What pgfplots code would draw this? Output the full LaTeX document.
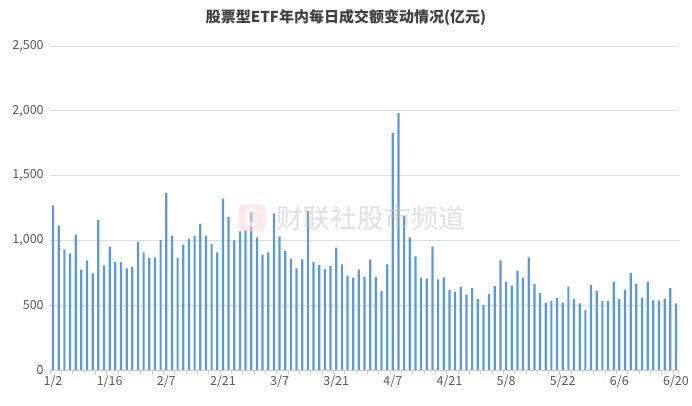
\documentclass[border=0pt]{standalone}
\usepackage{pgfplots}
\pgfplotsset{compat=1.18}
\usepackage{pgfplotstable}
\usepackage{fontspec}
\setmainfont{Noto Sans CJK SC}
\definecolor{barblue}{RGB}{91,155,213}
\definecolor{gridc}{RGB}{222,222,222}
\definecolor{labc}{RGB}{89,89,89}
\definecolor{titc}{RGB}{64,64,64}
\definecolor{wmpink}{RGB}{250,215,215}
\pgfplotstableread{
x y
0 1270
1 1110
2 931
3 900
4 1044
5 774
6 846
7 746
8 1159
9 808
10 951
11 833
12 833
13 785
14 797
15 987
16 908
17 864
18 869
19 1005
20 1367
21 1036
22 864
23 967
24 1013
25 1036
26 1128
27 1036
28 974
29 908
30 1323
31 1182
32 1000
33 1069
34 1079
35 1218
36 1023
37 890
38 908
39 1208
40 1031
41 920
42 859
43 785
44 854
45 1228
46 833
47 810
48 779
49 803
50 944
51 815
52 728
53 708
54 774
55 718
56 851
57 718
58 608
59 815
60 1828
61 1982
62 1190
63 1023
64 877
65 713
66 705
67 951
68 700
69 715
70 620
71 600
72 644
73 582
74 631
75 546
76 503
77 587
78 649
79 846
80 682
81 651
82 767
83 713
84 869
85 662
86 595
87 520
88 536
89 556
90 520
91 644
92 546
93 515
94 462
95 654
96 608
97 533
98 533
99 682
100 546
101 620
102 749
103 662
104 559
105 682
106 538
107 538
108 551
109 631
110 515
}\etfdata
\begin{document}
\begin{tikzpicture}
\useasboundingbox (-50.2pt,-36pt) rectangle (641.8pt,370pt);
\begin{axis}[
  at={(0pt,0pt)}, anchor=south west, scale only axis,
  width=628.6pt, height=324pt,
  xmin=-0.5, xmax=110.5, ymin=0, ymax=2500,
  ytick={0,500,1000,1500,2000,2500},
  /pgf/number format/1000 sep={,},
  /pgf/number format/assume math mode=true,
  ymajorgrids, grid style={draw=gridc, line width=0.8pt},
  axis x line*=bottom, axis y line*=left,
  y axis line style={draw=none},
  x axis line style={draw=gridc!80!gray, line width=0.8pt},
  xtick={0,10,...,110},
  xticklabels={1/2,1/16,2/7,2/21,3/7,3/21,4/7,4/21,5/8,5/22,6/6,6/20},
  major tick length=0pt,
  extra x ticks={-0.5,1.5,...,109.5,110.5},
  extra x tick labels={},
  extra x tick style={tick style={draw=gridc!80!gray, line width=0.8pt}, major tick length=4pt, tick align=outside, grid=none},
  tick label style={font=\fontsize{12.5}{14}\selectfont, text=labc},
  yticklabel style={xshift=-3pt},
  xticklabel style={yshift=-2pt},
  clip=false,
]
\addplot[ybar, bar width=2.2pt, fill=barblue, draw=none] table[x=x,y=y]{\etfdata};
\end{axis}
\node[font=\fontsize{15}{17}\selectfont\bfseries, text=titc] at (295.8pt,352pt) {股票型ETF年内每日成交额变动情况(亿元)};
\begin{scope}[opacity=0.55]
\fill[wmpink, rounded corners=5pt] (188.3pt,138.5pt) rectangle (215.3pt,165.5pt);
\node[font=\fontsize{24}{26}\selectfont\bfseries, text=white] at (201.8pt,152pt) {C};
\node[font=\fontsize{27}{29}\selectfont, text=gray!45] at (320.8pt,152pt) {财联社股市频道};
\end{scope}
\end{tikzpicture}
\end{document}
